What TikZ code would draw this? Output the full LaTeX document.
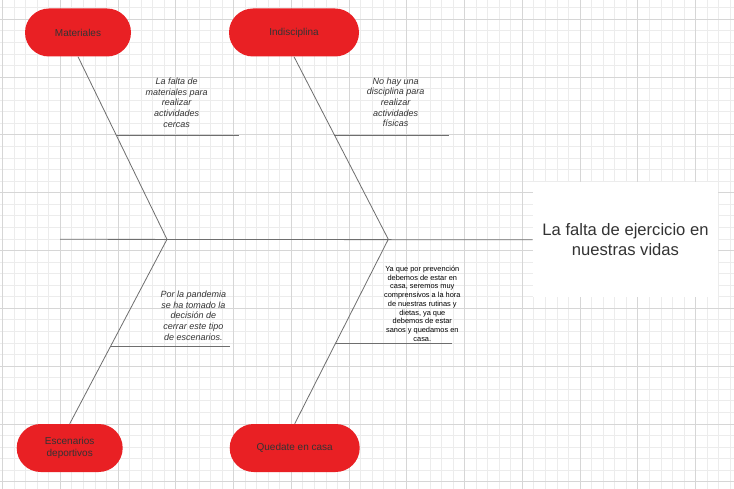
\documentclass[tikz,border=0pt]{standalone}
\usepackage{fontspec}
\setmainfont{Liberation Sans}
\usetikzlibrary{calc}
\definecolor{pillred}{RGB}{233,32,36}
\definecolor{bonegray}{RGB}{110,110,110}
\definecolor{gridminor}{RGB}{236,236,236}
\definecolor{gridmajor}{RGB}{214,214,214}
\definecolor{labelgray}{RGB}{51,51,51}
\tikzset{
  pill/.style={fill=pillred, rounded corners=24pt, minimum height=48pt, inner sep=0pt, align=center, text=labelgray, font=\fontsize{10}{11.3}\selectfont},
  bone/.style={draw=bonegray, line width=0.8pt},
  note/.style={align=center, inner sep=0pt, text=labelgray, font=\fontsize{9}{10.7}\selectfont\itshape},
  gridline/.style={line width=0.8pt}
}

\begin{document}
\begin{tikzpicture}[x=1pt,y=-1pt]
\useasboundingbox (0,0) rectangle (734,489);
\fill[white] (0,0) rectangle (734,489);
\foreach \i in {0,...,63} \draw[gridline, gridminor] ({2.55+11.55*\i},0) -- ++(0,489);
\foreach \j in {-1,...,41} \draw[gridline, gridminor] (0,{19.3+11.56*\j}) -- ++(734,0);
\foreach \i in {0,...,12} \draw[gridline, gridmajor] ({2.55+57.75*\i},0) -- ++(0,489);
\foreach \j in {0,...,8} \draw[gridline, gridmajor] (0,{19.3+57.8*\j}) -- ++(734,0);

\node[pill, minimum width=106pt] (mat) at (78,32.5) {Materiales};
\node[pill, minimum width=130pt] (ind) at (294,32.5) {Indisciplina};
\node[pill, minimum width=106pt] (esc) at (69.7,448) {Escenarios\\deportivos};
\node[pill, minimum width=130pt] (qed) at (294.7,448) {Quedate en casa};
\node[fill=white, minimum width=185.6pt, minimum height=115pt, inner sep=0pt, align=center, text=labelgray, font=\fontsize{16.6}{19.7}\selectfont] (efecto) at (625.5,239.8) {La falta de ejercicio en\\nuestras vidas};

\coordinate (s0) at (60,239.3);
\coordinate (v1) at (167,239.3);
\coordinate (v2) at (388.3,239.3);
\draw[bone] (s0) -- (efecto.west);
\draw[bone] (mat.south) -- (v1) -- (esc.north);
\draw[bone] (ind.south) -- (v2) -- (qed.north);

\coordinate (t1e) at (239,135);
\coordinate (t2e) at (448.5,135);
\coordinate (t3e) at (230,346);
\coordinate (t4e) at (452,343.5);
\draw[bone] ($(mat.south)!0.429!(v1)$) coordinate (b1) -- (t1e |- b1);
\draw[bone] ($(ind.south)!0.429!(v2)$) coordinate (b2) -- (t2e |- b2);
\draw[bone] ($(v1)!0.58!(esc.north)$) coordinate (b3) -- (t3e |- b3);
\draw[bone] ($(v2)!0.566!(qed.north)$) coordinate (b4) -- (t4e |- b4);

\node[note] (n1) at (176.7,102.5) {La falta de\\materiales para\\realizar\\actividades\\cercas};
\node[note] (n2) at (395.7,102.3) {No hay una\\disciplina para\\realizar\\actividades\\físicas};
\node[note] (n3) at (193.3,315.7) {Por la pandemia\\se ha tomado la\\decisión de\\cerrar este tipo\\de escenarios.};
\node[note, font=\fontsize{7.4}{8.7}\selectfont, text=black] (n4) at (422.3,303.7) {Ya que por prevención\\debemos de estar en\\casa, seremos muy\\comprensivos a la hora\\de nuestras rutinas y\\dietas, ya que\\debemos de estar\\sanos y quedamos en\\casa.};
\end{tikzpicture}
\end{document}
